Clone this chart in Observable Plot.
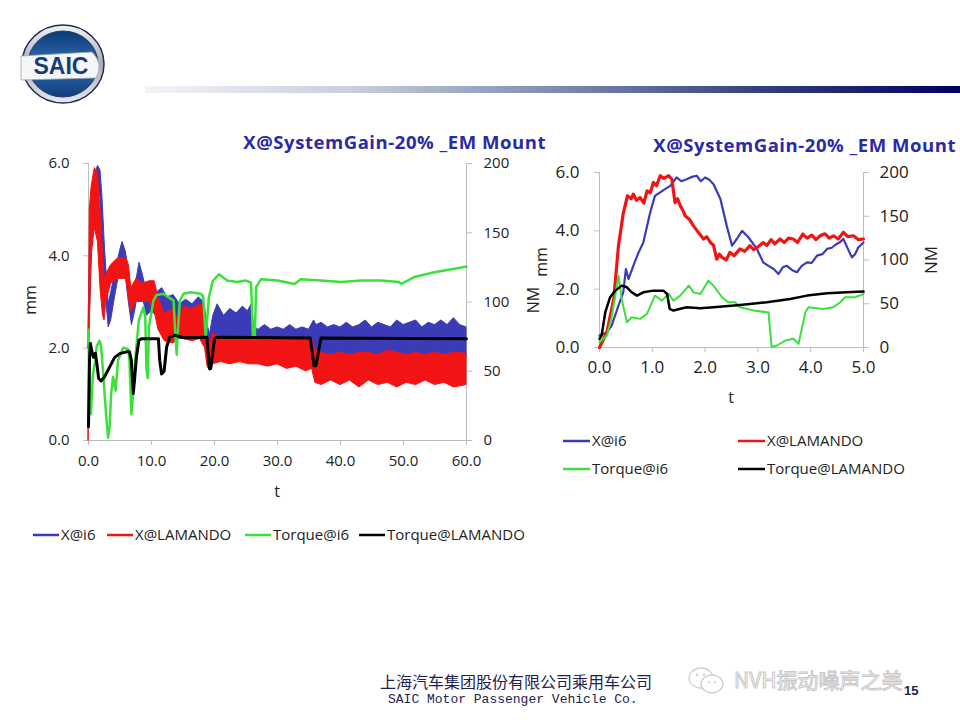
<!DOCTYPE html>
<html><head><meta charset="utf-8">
<script src="https://cdn.jsdelivr.net/npm/d3@7"></script>
<script src="https://cdn.jsdelivr.net/npm/@observablehq/plot@0.6"></script>
<style>
body{margin:0;background:#fff;}
#page{position:relative;width:960px;height:720px;overflow:hidden;font-family:"Open Sans",sans-serif;color:#222;}
.abs{position:absolute;white-space:nowrap;line-height:20px;}
.lg{position:absolute;white-space:nowrap;font-size:15px;line-height:20px;}
.lg svg{vertical-align:middle;margin-right:2px;position:relative;top:-1px;}
.rot{position:absolute;transform:translate(-50%,-50%) rotate(-90deg);font-size:16px;white-space:nowrap;}
.ttl{position:absolute;white-space:nowrap;line-height:22px;text-align:right;font-weight:bold;font-size:18.5px;letter-spacing:0.55px;color:#2a2aa8;}
</style></head><body><div id="page">
<svg class="abs" style="left:0;top:0" width="130" height="120">
 <defs>
  <linearGradient id="ring" x1="0" y1="0" x2="0" y2="1"><stop offset="0" stop-color="#f2f2f2"/><stop offset="0.5" stop-color="#a9adb3"/><stop offset="1" stop-color="#e8e8e8"/></linearGradient>
  <linearGradient id="ball" x1="0" y1="0" x2="0" y2="1"><stop offset="0" stop-color="#0d3a78"/><stop offset="0.5" stop-color="#2f6db4"/><stop offset="1" stop-color="#0f3f80"/></linearGradient>
 </defs>
 <ellipse cx="63" cy="64" rx="41" ry="39" fill="url(#ring)" stroke="#1b2d5a" stroke-width="1.5"/>
 <ellipse cx="63" cy="64" rx="35" ry="33" fill="url(#ball)" stroke="#203a6a" stroke-width="1"/>
 <path d="M21 56 L92 52 Q104 64 96 78 L21 80 Z" fill="#f4f6f8" stroke="#9aa3ad" stroke-width="0.8"/>
 <text x="61" y="74" text-anchor="middle" font-family="Liberation Sans, Arial, sans-serif" font-weight="bold" font-size="23" fill="#183a78">SAIC</text>
</svg>
<div class="abs" style="left:145px;top:86px;width:815px;height:7px;background:linear-gradient(to right,#f3f4f8 0%,#c9cfdc 25%,#7f8db0 50%,#34427e 75%,#000060 100%);"></div>

<div class="ttl" style="left:180px;top:131px;width:366px;">X@SystemGain-20% _EM Mount</div>
<div class="ttl" style="left:590px;top:134px;width:366px;">X@SystemGain-20% _EM Mount</div>

<div id="c1" class="abs" style="left:0;top:140px;"></div>
<div id="c2" class="abs" style="left:540px;top:150px;"></div>

<div class="rot" style="left:30px;top:300px;">mm</div>
<div class="rot" style="left:533px;top:300px;">NM</div>
<div class="abs" style="left:270px;top:481px;width:14px;text-align:center;font-size:16px;">t</div>
<div class="rot" style="left:541px;top:262px;">mm</div>
<div class="rot" style="left:930px;top:260px;font-size:17px;">NM</div>
<div class="abs" style="left:724px;top:387px;width:14px;text-align:center;font-size:16px;">t</div>

<div class="lg" style="left:33px;top:524px;"><svg width="26" height="4"><line x1="0" y1="2" x2="26" y2="2" stroke="#3b3bb8" stroke-width="2.5"/></svg>X@i6</div>
<div class="lg" style="left:107px;top:524px;"><svg width="26" height="4"><line x1="0" y1="2" x2="26" y2="2" stroke="#f21414" stroke-width="2.5"/></svg>X@LAMANDO</div>
<div class="lg" style="left:245px;top:524px;"><svg width="26" height="4"><line x1="0" y1="2" x2="26" y2="2" stroke="#3ce03c" stroke-width="2.5"/></svg>Torque@i6</div>
<div class="lg" style="left:359px;top:524px;"><svg width="26" height="4"><line x1="0" y1="2" x2="26" y2="2" stroke="#000" stroke-width="2.5"/></svg>Torque@LAMANDO</div>

<div class="lg" style="left:563px;top:430px;"><svg width="27" height="4"><line x1="0" y1="2" x2="27" y2="2" stroke="#3b3bb8" stroke-width="2.5"/></svg>X@i6</div>
<div class="lg" style="left:738px;top:430px;"><svg width="27" height="4"><line x1="0" y1="2" x2="27" y2="2" stroke="#f21414" stroke-width="2.5"/></svg>X@LAMANDO</div>
<div class="lg" style="left:563px;top:458px;"><svg width="27" height="4"><line x1="0" y1="2" x2="27" y2="2" stroke="#3ce03c" stroke-width="2.5"/></svg>Torque@i6</div>
<div class="lg" style="left:738px;top:458px;"><svg width="27" height="4"><line x1="0" y1="2" x2="27" y2="2" stroke="#000" stroke-width="2.5"/></svg>Torque@LAMANDO</div>

<div class="abs" style="left:380px;top:671px;font-family:'Noto Sans CJK SC';font-size:16px;color:#1d2250;">上海汽车集团股份有限公司乘用车公司</div>
<div class="abs" style="left:388px;top:690px;font-family:'Liberation Mono',monospace;font-size:13px;color:#1d2250;">SAIC Motor Passenger Vehicle Co.</div>
<svg class="abs" style="left:686px;top:664px" width="44" height="34">
 <ellipse cx="15" cy="14" rx="12" ry="10" fill="none" stroke="#cfcfcf" stroke-width="1.3"/>
 <ellipse cx="26" cy="20" rx="11" ry="9" fill="#fff" stroke="#cfcfcf" stroke-width="1.3"/>
 <circle cx="11" cy="11" r="1.3" fill="#cfcfcf"/><circle cx="18" cy="11" r="1.3" fill="#cfcfcf"/>
 <circle cx="23" cy="18" r="1.1" fill="#cfcfcf"/><circle cx="29" cy="18" r="1.1" fill="#cfcfcf"/>
</svg>
<div class="abs" style="left:734px;top:666px;font-family:'Noto Sans CJK SC';font-size:21px;line-height:26px;color:#fff;-webkit-text-stroke:1px #c8c8c8;">NVH振动噪声之美</div>
<div class="abs" style="left:904px;top:681px;font-family:'Liberation Sans',Arial;font-weight:bold;font-size:13px;color:#1d2250;">15</div>
</div>
<script>
// ---------- LEFT chart data (0-60 s) ----------
const L_xticks = [0, 10, 20, 30, 40, 50, 60];
const L_mmticks = [0, 2, 4, 6];
const L_nmticks = [0, 50, 100, 150, 200];
// X@i6 noisy band (mm)
const L_i6_t  = [0,0.15,0.3,0.6,1.0,1.5,1.9,2.2,2.6,3.2,3.6,4.2,5.0,5.4,5.9,6.4,6.9,7.4,8.1,8.6,9.3,10,10.8,11.7,12.5,13.5,14.5,15.5,16.5,17.5,18.3,18.7,19.3,19.8,20.5,21.5,22.5,23.5,24.5,25.3,25.9,26.3,27,28,29,30,31,32,33,34,35,35.8,36.2,37,38,39,40,41,42,43,44,45,46,47,48,49,50,51,52,53,54,55,56,57,58,59,60];
const L_i6_lo = [2.0,2.4,3.0,4.3,4.9,5.3,5.3,4.2,3.4,2.45,2.6,3.1,3.7,3.9,3.6,3.0,2.5,2.8,3.4,3.1,2.7,2.8,2.7,2.6,2.4,2.2,2.2,2.2,2.2,2.2,2.2,2.0,1.9,2.0,2.0,2.0,2.0,2.0,2.0,2.0,2.0,2.0,1.95,1.95,1.95,1.95,1.95,1.95,1.95,1.95,1.95,1.9,1.85,1.85,1.85,1.85,1.85,1.85,1.85,1.85,1.85,1.85,1.85,1.85,1.85,1.85,1.85,1.85,1.85,1.85,1.85,1.85,1.85,1.85,1.8,1.8,1.8];
const L_i6_hi = [2.5,3.6,4.6,5.4,5.7,5.95,5.85,5.3,4.2,2.95,3.2,3.6,4.1,4.3,4.1,3.7,3.0,3.3,3.85,3.6,3.2,3.4,3.2,3.3,3.1,3.15,2.95,3.05,2.95,3.1,3.0,2.6,2.3,2.7,2.95,2.7,2.85,2.75,2.9,2.8,2.95,2.45,2.4,2.5,2.4,2.45,2.4,2.5,2.4,2.45,2.4,2.6,2.5,2.55,2.45,2.5,2.45,2.55,2.45,2.5,2.6,2.45,2.55,2.5,2.45,2.6,2.5,2.55,2.6,2.45,2.55,2.5,2.6,2.5,2.65,2.5,2.45];
// X@LAMANDO noisy band (mm)
const L_lam_t  = [0,0.1,0.2,0.5,1.0,1.5,1.9,2.3,2.55,2.8,3.6,4.7,6.0,6.4,6.8,7.6,8.7,9.7,10.5,11.1,12.1,13.5,14.3,15.1,16.5,17.7,18.5,18.9,19.3,19.8,21,22.5,24,25.5,27,28.5,30,31.5,33,34.5,35.5,36,37,38.5,40,41.5,43,44.5,46,47.5,49,50.5,52,53.5,55,56.5,58,60];
const L_lam_lo = [0,1.0,2.5,4.0,4.6,4.3,3.3,2.7,2.6,3.0,3.4,3.5,3.5,3.1,2.8,3.0,3.0,3.0,2.8,2.4,2.15,2.1,2.25,2.2,2.15,2.2,2.0,1.6,1.5,1.65,1.7,1.65,1.7,1.65,1.65,1.6,1.65,1.55,1.6,1.5,1.55,1.25,1.2,1.3,1.2,1.3,1.15,1.3,1.2,1.25,1.15,1.25,1.2,1.3,1.2,1.25,1.15,1.2];
const L_lam_hi = [0.3,3.0,5.0,5.5,5.9,5.8,5.0,4.0,3.5,3.6,3.8,3.95,3.95,3.8,3.3,3.5,3.4,3.45,3.45,3.1,2.75,2.85,2.6,2.9,2.85,2.95,2.9,2.3,2.1,2.3,2.25,2.2,2.25,2.2,2.2,2.25,2.2,2.2,2.2,2.2,2.2,1.95,1.9,1.85,1.9,1.85,1.9,1.9,1.85,1.95,1.9,1.85,1.9,1.85,1.9,1.85,1.9,1.88];
// Torque@i6 (NM)
const L_tq6_t = [0,0.1,0.27,0.37,0.5,0.7,1.0,1.3,1.75,2.0,2.3,2.55,2.85,3.1,3.35,3.6,3.9,4.3,4.7,5.5,6.3,6.5,6.8,7.1,7.5,8.0,8.7,9.0,9.2,9.4,9.6,10.3,10.8,11.9,12.5,13.5,13.8,14.0,14.2,14.5,15.1,16.2,17.8,18.2,18.6,19.1,19.7,20.7,22,23.6,25,25.8,26.1,26.4,26.6,27.4,30,32.7,33.7,36.9,40.1,43.3,46.4,49.3,49.6,51.7,54.9,58.1,60];
const L_tq6_v = [80,60,22,19,30,48,55,68,72,68,50,34,15,2,10,34,46,36,58,67,66,58,19,34,63,87,96,90,52,45,82,101,105,106,104,101,75,62,80,101,106,107,106,104,74,103,115,120,115.5,114.4,115.5,114,74,74,110.7,116.5,115.5,113,116.5,115.5,114.4,115.5,115.5,114.4,113,118,121.5,124,125.6];
// Torque@LAMANDO (NM)
const L_tql_t = [0,0.16,0.3,0.5,0.8,1.1,1.4,1.6,2.0,2.55,3.35,4.15,4.95,6.0,6.5,6.8,7.1,7.3,7.6,8.0,8.4,11.1,11.3,11.6,12.0,12.4,12.9,13.7,15.1,18.8,19.2,19.4,20.0,20.5,35.2,35.8,36.1,36.9,60];
const L_tql_v = [10,58,70,65,60,63,53,45,43,46,53,60,62.7,64,64,58,34,43,60,72.3,73.5,73.5,58,48,50,67.5,74.7,76,74.2,74.5,52,52,73.5,74.6,74,54,54,74,73.5];

// ---------- RIGHT chart data (0-5 s) ----------
const R_xticks = [0, 1, 2, 3, 4, 5];
const R_mmticks = [0, 2, 4, 6];
const R_nmticks = [0, 50, 100, 150, 200];
const R_i6_t = [0,0.14,0.23,0.36,0.45,0.5,0.55,0.64,0.74,0.83,0.96,1.05,1.15,1.24,1.34,1.46,1.55,1.65,1.75,1.84,1.92,2.0,2.08,2.16,2.29,2.41,2.51,2.6,2.7,2.82,2.98,3.1,3.2,3.3,3.39,3.47,3.55,3.65,3.74,3.83,3.93,4.02,4.12,4.22,4.31,4.4,4.49,4.56,4.62,4.7,4.78,4.84,4.9,5.0];
const R_i6_v = [0.41,0.52,0.75,1.44,1.89,2.69,2.35,2.8,3.26,3.6,4.63,5.2,5.32,5.43,5.54,5.83,5.7,5.77,5.85,5.89,5.7,5.83,5.75,5.6,5.09,4.17,3.49,3.72,4.0,3.78,3.38,2.92,2.8,2.69,2.52,2.75,2.8,2.65,2.58,2.8,2.92,2.9,3.15,3.2,3.38,3.42,3.55,3.62,3.72,3.4,3.09,3.2,3.43,3.6];
const R_lam_t = [0,0.14,0.27,0.36,0.45,0.53,0.6,0.64,0.7,0.77,0.84,0.9,0.96,1.02,1.08,1.15,1.22,1.31,1.37,1.43,1.48,1.53,1.58,1.62,1.7,1.78,1.85,1.97,2.03,2.1,2.16,2.22,2.27,2.32,2.4,2.47,2.55,2.66,2.75,2.85,2.92,3.0,3.1,3.17,3.25,3.32,3.42,3.5,3.58,3.67,3.75,3.85,3.93,4.02,4.1,4.18,4.27,4.35,4.43,4.52,4.62,4.7,4.81,4.9,5.0];
const R_lam_v = [0,0.52,1.67,3.5,4.6,5.2,5.1,5.26,5.05,5.14,4.95,5.37,5.3,5.66,5.55,5.89,5.8,5.89,5.77,4.97,5.1,4.86,4.7,4.52,4.4,4.17,4.0,3.72,3.8,3.6,3.5,3.03,3.2,3.09,3.0,3.26,3.15,3.38,3.3,3.49,3.35,3.45,3.6,3.5,3.7,3.55,3.72,3.6,3.75,3.72,3.6,3.89,3.75,3.85,3.7,3.83,3.9,3.75,3.83,3.72,3.95,3.8,3.83,3.7,3.72];
const R_tq6_t = [0,0.14,0.23,0.36,0.42,0.52,0.61,0.77,0.9,1.05,1.18,1.31,1.4,1.53,1.69,1.78,1.91,2.06,2.16,2.32,2.44,2.57,2.66,2.92,3.17,3.2,3.26,3.36,3.52,3.67,3.77,3.9,3.96,4.24,4.43,4.56,4.65,4.84,5.0];
const R_tq6_v = [6,13.7,34.6,82,55.5,28.9,34.6,32.7,38.4,59.3,53.6,61.2,53.6,59.3,70.7,63,61.2,76.4,70.7,57.4,51.7,51.7,46,42.2,40.3,40.3,0.4,2.3,8,9.9,4.2,40.3,46,44.1,46,51.7,57.4,57.4,61.2];
const R_tql_t = [0,0.04,0.11,0.2,0.3,0.42,0.52,0.61,0.71,0.83,1.02,1.21,1.28,1.33,1.4,1.65,1.91,2.16,2.66,3.17,3.61,3.93,4.31,4.68,5.0];
const R_tql_v = [9.9,13.7,40.3,57.4,65,70.7,68.8,63.1,59.3,63.1,65,65,61.2,44.1,42.2,46,44.9,46,48.7,51.7,55.5,59.3,62,63.1,63.9];

// colours
const C_I6 = "#3b3bb8", C_LAM = "#f21414", C_TQ6 = "#3ce03c", C_TQL = "#000000";
const AX = "#bdbdbd";

function chart(cfg) {
  const K = cfg.mmMax / cfg.nmMax; // NM -> mm position on the shared y scale
  const marks = [
    Plot.ruleX([0, cfg.xMax], {stroke: AX}),
    Plot.ruleY([0], {stroke: AX}),
    Plot.axisX(cfg.xticks, {anchor: "bottom", tickSize: 5, tickPadding: cfg.xpad, tickFormat: d => d.toFixed(1), stroke: AX, fill: "#222", fontSize: cfg.fs, label: null}),
    Plot.axisY(cfg.mmticks, {anchor: "left", tickSize: 5, tickPadding: cfg.lpad, tickFormat: d => d.toFixed(1), stroke: AX, fill: "#222", fontSize: cfg.fs, label: null}),
    Plot.axisY(cfg.nmticks.map(v => v * K), {anchor: "right", tickSize: 5, tickPadding: cfg.rpad, tickFormat: d => String(Math.round(d / K)), stroke: AX, fill: "#222", fontSize: cfg.fs, label: null})
  ];
  if (cfg.i6band) {
    marks.push(Plot.areaY(cfg.i6band, {x: "t", y1: "lo", y2: "hi", fill: C_I6, stroke: C_I6, strokeWidth: 1}));
    marks.push(Plot.areaY(cfg.lamband, {x: "t", y1: "lo", y2: "hi", fill: C_LAM, stroke: C_LAM, strokeWidth: 1}));
  } else {
    marks.push(Plot.line(cfg.i6, {x: "t", y: "y", stroke: C_I6, strokeWidth: 2.2}));
    marks.push(Plot.line(cfg.lam, {x: "t", y: "y", stroke: C_LAM, strokeWidth: 3.2}));
  }
  marks.push(Plot.line(cfg.tq6, {x: "t", y: "y", stroke: C_TQ6, strokeWidth: cfg.tw}));
  marks.push(Plot.line(cfg.tql, {x: "t", y: "y", stroke: C_TQL, strokeWidth: cfg.tw + 0.5}));
  return Plot.plot({
    width: cfg.width, height: cfg.height,
    marginLeft: cfg.ml, marginRight: cfg.mr, marginTop: cfg.mt, marginBottom: cfg.mb,
    x: {domain: [0, cfg.xMax]}, y: {domain: [0, cfg.mmMax]},
    style: {fontFamily: "Open Sans", fontSize: cfg.fs + "px", color: "#222", background: "transparent", overflow: "visible"},
    marks
  });
}

const band = (t, lo, hi) => t.map((x, i) => ({t: x, lo: lo[i], hi: hi[i]}));
const ser = (t, v) => t.map((x, i) => ({t: x, y: v[i]}));
const tq = (t, v) => t.map((x, i) => ({t: x, y: v[i] * 6 / 200}));

const L = chart({
  width: 560, height: 340, ml: 88, mr: 94, mt: 23, mb: 40, fs: 15, xpad: 10, lpad: 14, rpad: 12, tw: 2.5,
  xMax: 60, mmMax: 6, nmMax: 200,
  xticks: L_xticks, mmticks: L_mmticks, nmticks: L_nmticks,
  i6band: band(L_i6_t, L_i6_lo, L_i6_hi),
  lamband: band(L_lam_t, L_lam_lo, L_lam_hi),
  tq6: tq(L_tq6_t, L_tq6_v),
  tql: tq(L_tql_t, L_tql_v)
});
document.getElementById("c1").appendChild(L);

const R = chart({
  width: 420, height: 240, ml: 59, mr: 97, mt: 22, mb: 43, fs: 17, xpad: 8, lpad: 15, rpad: 11, tw: 2,
  xMax: 5, mmMax: 6, nmMax: 200,
  xticks: R_xticks, mmticks: R_mmticks, nmticks: R_nmticks,
  i6: ser(R_i6_t, R_i6_v),
  lam: ser(R_lam_t, R_lam_v),
  tq6: tq(R_tq6_t, R_tq6_v),
  tql: tq(R_tql_t, R_tql_v)
});
document.getElementById("c2").appendChild(R);
</script>
</body></html>
